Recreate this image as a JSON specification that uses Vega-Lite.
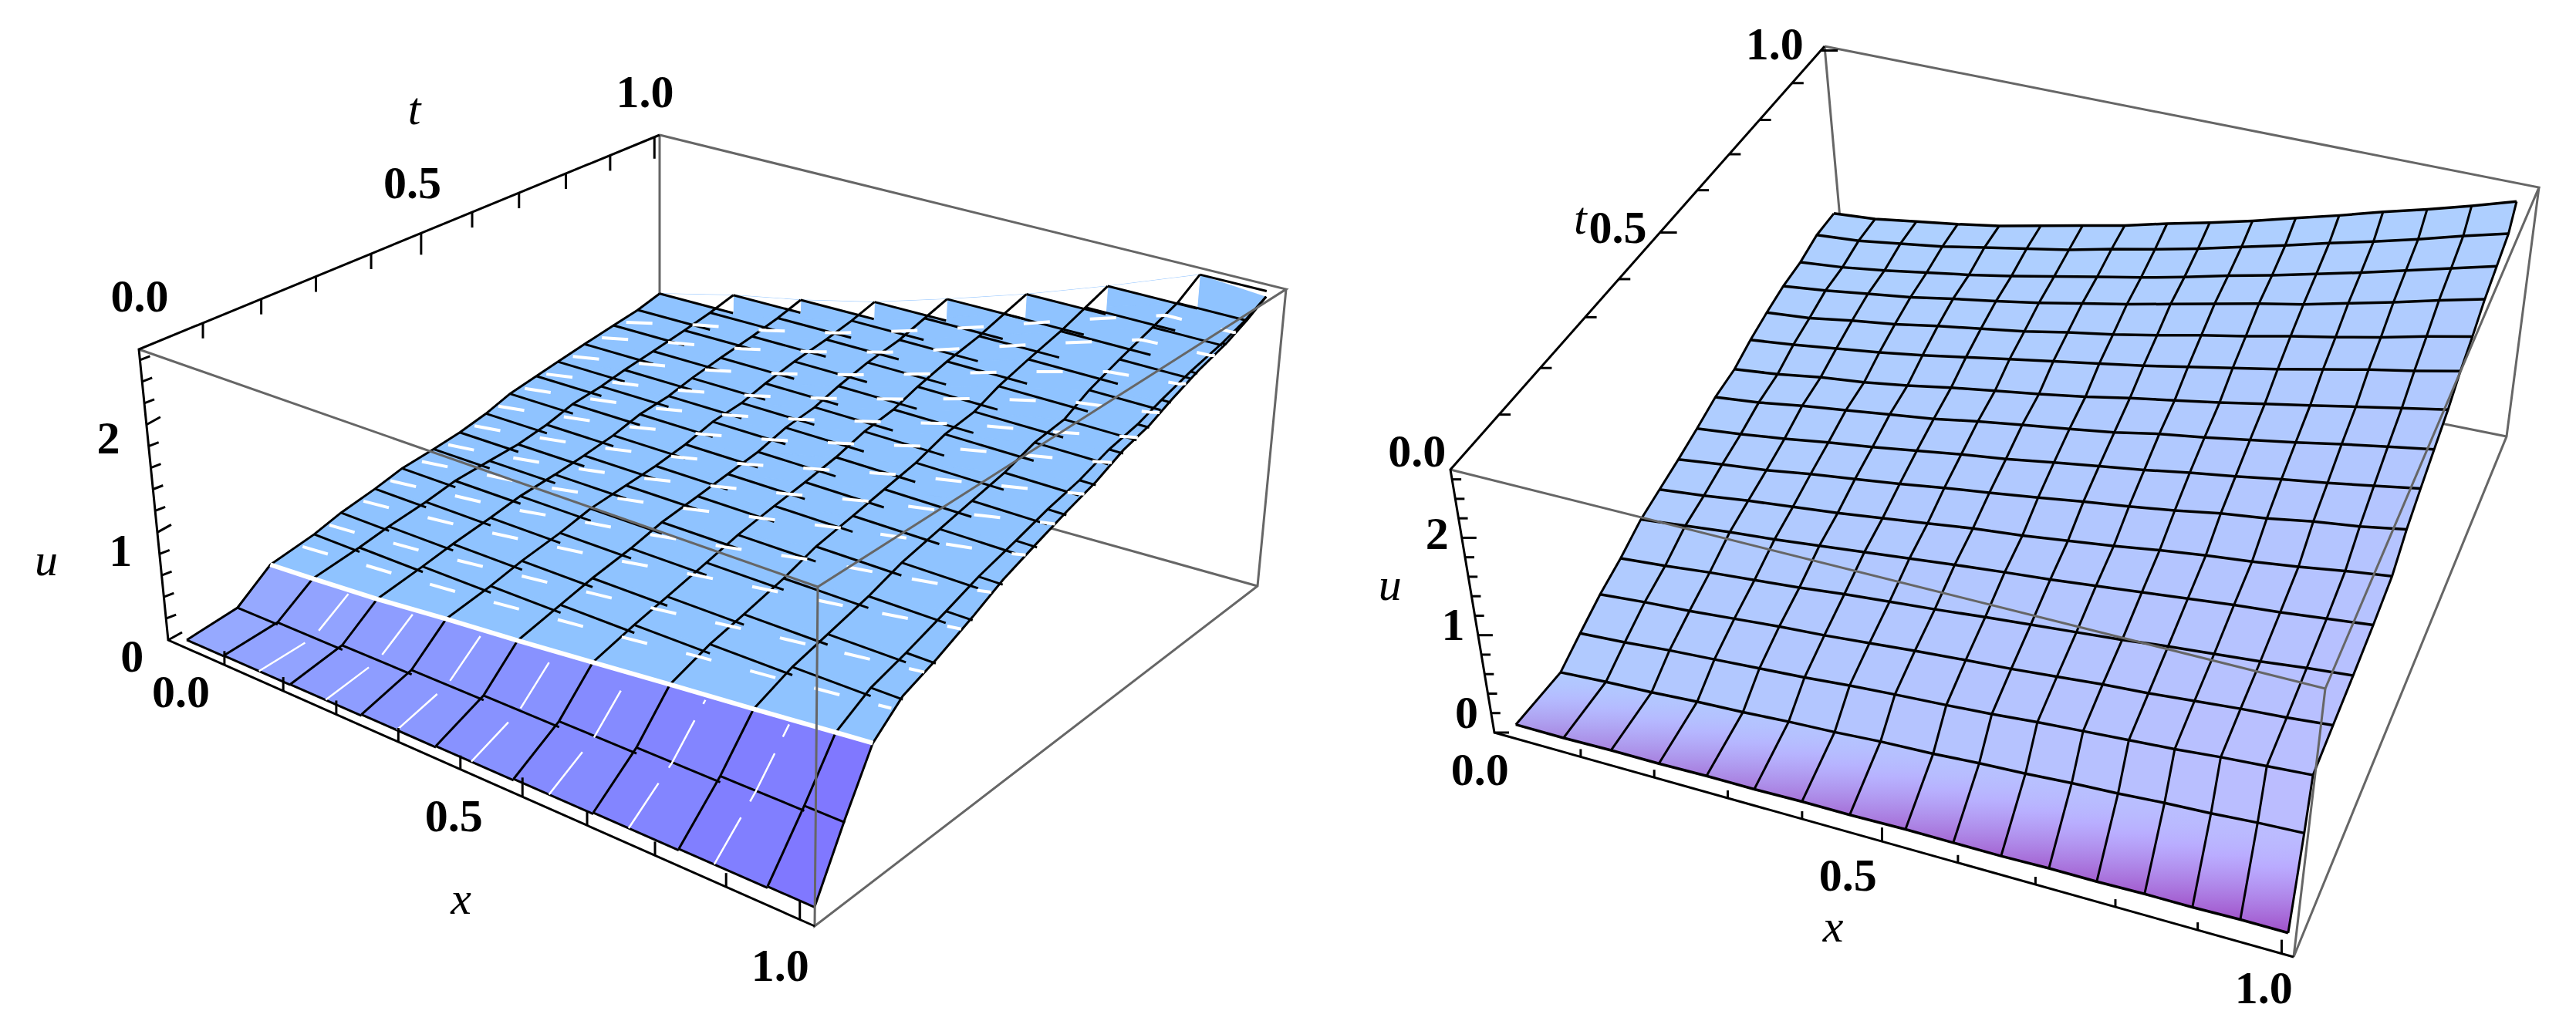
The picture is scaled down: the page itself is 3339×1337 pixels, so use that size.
{"$schema":"https://vega.github.io/schema/vega-lite/v6.json","width":3339,"height":1337,"padding":0,"autosize":{"type":"none"},"background":"white","config":{"view":{"stroke":null}},
"params":[{"name":"cam","value":{"L":[218,830,1056,1201,1630,760,855,543,180,453,1060,761,1667,375,855,175],"R":[1937,950,2973,1241,3249,566,2395,395,1880,609,3014,893,3291,243,2365,60]}},{"name":"tk","value":{"Lt":[0,20,0,28],"Lx":[0,-18,0,-25],"Lu":[13,-5,18,-10],"Rt":[15,0,22,0],"Rx":[0,-10,0,-18],"Ru":[12,0,19,0]}}],
"datasets":{
"cols":[{"ck":"L0","a":0.03,"b":0},{"ck":"L1","a":0.087,"b":0.124},{"ck":"L2","a":0.19,"b":0.237},{"ck":"L3","a":0.3,"b":0.36},{"ck":"L4","a":0.415,"b":0.48},{"ck":"L5","a":0.535,"b":0.61},{"ck":"L6","a":0.658,"b":0.742},{"ck":"L7","a":0.79,"b":0.89},{"ck":"L8","a":0.927,"b":1},{"ck":"L9","a":1,"b":1},
{"ck":"R0","a":0.03,"b":0},{"ck":"R1","a":0.09,"b":0.0625},{"ck":"R2","a":0.15,"b":0.125},{"ck":"R3","a":0.21,"b":0.1875},{"ck":"R4","a":0.27,"b":0.25},{"ck":"R5","a":0.33,"b":0.3125},{"ck":"R6","a":0.39,"b":0.375},{"ck":"R7","a":0.45,"b":0.4375},{"ck":"R8","a":0.52,"b":0.5},{"ck":"R9","a":0.58,"b":0.5625},{"ck":"R10","a":0.64,"b":0.625},{"ck":"R11","a":0.7,"b":0.6875},{"ck":"R12","a":0.76,"b":0.75},{"ck":"R13","a":0.82,"b":0.8125},{"ck":"R14","a":0.88,"b":0.875},{"ck":"R15","a":0.94,"b":0.9375},{"ck":"R16","a":1,"b":1}],
"rows":[{"rk":"L0","tv":0,"xr":1},{"rk":"L1","tv":0.11,"xr":0.97},{"rk":"L2","tv":0.184,"xr":0.96},{"rk":"L3","tv":0.278,"xr":0.94},{"rk":"L4","tv":0.335,"xr":0.95},{"rk":"L5","tv":0.407,"xr":0.955},{"rk":"L6","tv":0.464,"xr":0.96},{"rk":"L7","tv":0.53,"xr":0.965},{"rk":"L8","tv":0.585,"xr":0.97},{"rk":"L9","tv":0.64,"xr":0.975},{"rk":"L10","tv":0.69,"xr":0.98},{"rk":"L11","tv":0.745,"xr":0.98},{"rk":"L12","tv":0.79,"xr":0.98},{"rk":"L13","tv":0.845,"xr":0.98},{"rk":"L14","tv":0.905,"xr":0.98},{"rk":"L15","tv":0.955,"xr":0.975},{"rk":"L16","tv":1,"xr":0.97},
{"rk":"R0","tv":0,"xr":0.99},{"rk":"R1","tv":0.135,"xr":0.97},{"rk":"R2","tv":0.2,"xr":0.96},{"rk":"R3","tv":0.265,"xr":0.965},{"rk":"R4","tv":0.33,"xr":0.97},{"rk":"R5","tv":0.395,"xr":0.975},{"rk":"R6","tv":0.453,"xr":0.98},{"rk":"R7","tv":0.511,"xr":0.98},{"rk":"R8","tv":0.569,"xr":0.98},{"rk":"R9","tv":0.626,"xr":0.98},{"rk":"R10","tv":0.684,"xr":0.98},{"rk":"R11","tv":0.734,"xr":0.98},{"rk":"R12","tv":0.784,"xr":0.98},{"rk":"R13","tv":0.834,"xr":0.98},{"rk":"R14","tv":0.885,"xr":0.98},{"rk":"R15","tv":0.935,"xr":0.98},{"rk":"R16","tv":0.985,"xr":0.975}]},
"data":{"values":[
{"p":"L","g":"back","e":"L1","c":0,"x":0,"t":1,"u":2.7},{"p":"L","g":"back","e":"L1","c":1,"x":0,"t":1,"u":0},{"p":"L","g":"back","e":"L1","c":2,"x":1,"t":1,"u":0},
{"p":"L","g":"front","e":"L2","c":0,"x":0,"t":0,"u":2.7},{"p":"L","g":"front","e":"L2","c":1,"x":1,"t":0,"u":2.7},{"p":"L","g":"front","e":"L2","c":2,"x":1,"t":1,"u":2.7},{"p":"L","g":"front","e":"L2","c":3,"x":0,"t":1,"u":2.7},
{"p":"L","g":"front","e":"L3","c":0,"x":1,"t":1,"u":2.7},{"p":"L","g":"front","e":"L3","c":1,"x":1,"t":1,"u":0},{"p":"L","g":"front","e":"L3","c":2,"x":1,"t":0,"u":0},{"p":"L","g":"front","e":"L3","c":3,"x":1,"t":0,"u":2.7},
{"p":"L","g":"black","e":"L4","c":0,"x":0,"t":1,"u":2.7},{"p":"L","g":"black","e":"L4","c":1,"x":0,"t":0,"u":2.7},{"p":"L","g":"black","e":"L4","c":2,"x":0,"t":0,"u":0},{"p":"L","g":"black","e":"L4","c":3,"x":1,"t":0,"u":0},
{"p":"R","g":"back","e":"R1","c":0,"x":0,"t":1,"u":2.7},{"p":"R","g":"back","e":"R1","c":1,"x":0,"t":1,"u":0},{"p":"R","g":"back","e":"R1","c":2,"x":1,"t":1,"u":0},
{"p":"R","g":"front","e":"R2","c":0,"x":0,"t":0,"u":2.7},{"p":"R","g":"front","e":"R2","c":1,"x":1,"t":0,"u":2.7},{"p":"R","g":"front","e":"R2","c":2,"x":1,"t":1,"u":2.7},{"p":"R","g":"front","e":"R2","c":3,"x":0,"t":1,"u":2.7},
{"p":"R","g":"front","e":"R3","c":0,"x":1,"t":1,"u":2.7},{"p":"R","g":"front","e":"R3","c":1,"x":1,"t":1,"u":0},{"p":"R","g":"front","e":"R3","c":2,"x":1,"t":0,"u":0},{"p":"R","g":"front","e":"R3","c":3,"x":1,"t":0,"u":2.7},
{"p":"R","g":"black","e":"R4","c":0,"x":0,"t":1,"u":2.7},{"p":"R","g":"black","e":"R4","c":1,"x":0,"t":0,"u":2.7},{"p":"R","g":"black","e":"R4","c":2,"x":0,"t":0,"u":0},{"p":"R","g":"black","e":"R4","c":3,"x":1,"t":0,"u":0},
{"p":"L","ax":"t","v":0.123,"m":0},{"p":"L","ax":"t","v":0.235,"m":0},{"p":"L","ax":"t","v":0.34,"m":0},{"p":"L","ax":"t","v":0.446,"m":0},{"p":"L","ax":"t","v":0.542,"m":1},{"p":"L","ax":"t","v":0.64,"m":0},{"p":"L","ax":"t","v":0.73,"m":0},{"p":"L","ax":"t","v":0.82,"m":0},{"p":"L","ax":"t","v":0.905,"m":0},{"p":"L","ax":"t","v":0.99,"m":1},
{"p":"L","ax":"x","v":0.087,"m":0},{"p":"L","ax":"x","v":0.178,"m":0},{"p":"L","ax":"x","v":0.26,"m":0},{"p":"L","ax":"x","v":0.356,"m":0},{"p":"L","ax":"x","v":0.452,"m":0},{"p":"L","ax":"x","v":0.548,"m":1},{"p":"L","ax":"x","v":0.648,"m":0},{"p":"L","ax":"x","v":0.753,"m":0},{"p":"L","ax":"x","v":0.863,"m":0},{"p":"L","ax":"x","v":0.977,"m":1},
{"p":"L","ax":"u","v":0,"m":1},{"p":"L","ax":"u","v":0.2,"m":0},{"p":"L","ax":"u","v":0.4,"m":0},{"p":"L","ax":"u","v":0.6,"m":0},{"p":"L","ax":"u","v":0.8,"m":0},{"p":"L","ax":"u","v":1,"m":1},{"p":"L","ax":"u","v":1.2,"m":0},{"p":"L","ax":"u","v":1.4,"m":0},{"p":"L","ax":"u","v":1.6,"m":0},{"p":"L","ax":"u","v":1.8,"m":0},{"p":"L","ax":"u","v":2,"m":1},{"p":"L","ax":"u","v":2.2,"m":0},{"p":"L","ax":"u","v":2.4,"m":0},{"p":"L","ax":"u","v":2.6,"m":0},
{"p":"R","ax":"t","v":0.13,"m":0},{"p":"R","ax":"t","v":0.24,"m":0},{"p":"R","ax":"t","v":0.36,"m":0},{"p":"R","ax":"t","v":0.45,"m":0},{"p":"R","ax":"t","v":0.56,"m":1},{"p":"R","ax":"t","v":0.66,"m":0},{"p":"R","ax":"t","v":0.745,"m":0},{"p":"R","ax":"t","v":0.826,"m":0},{"p":"R","ax":"t","v":0.913,"m":0},{"p":"R","ax":"t","v":0.99,"m":1},
{"p":"R","ax":"x","v":0.108,"m":0},{"p":"R","ax":"x","v":0.2,"m":0},{"p":"R","ax":"x","v":0.292,"m":0},{"p":"R","ax":"x","v":0.385,"m":0},{"p":"R","ax":"x","v":0.485,"m":1},{"p":"R","ax":"x","v":0.58,"m":0},{"p":"R","ax":"x","v":0.677,"m":0},{"p":"R","ax":"x","v":0.777,"m":0},{"p":"R","ax":"x","v":0.88,"m":0},{"p":"R","ax":"x","v":0.985,"m":1},
{"p":"R","ax":"u","v":0,"m":1},{"p":"R","ax":"u","v":0.2,"m":0},{"p":"R","ax":"u","v":0.4,"m":0},{"p":"R","ax":"u","v":0.6,"m":0},{"p":"R","ax":"u","v":0.8,"m":0},{"p":"R","ax":"u","v":1,"m":1},{"p":"R","ax":"u","v":1.2,"m":0},{"p":"R","ax":"u","v":1.4,"m":0},{"p":"R","ax":"u","v":1.6,"m":0},{"p":"R","ax":"u","v":1.8,"m":0},{"p":"R","ax":"u","v":2,"m":1},{"p":"R","ax":"u","v":2.2,"m":0},{"p":"R","ax":"u","v":2.4,"m":0},{"p":"R","ax":"u","v":2.6,"m":0},
{"p":"L","s":"0.0","x":0.005,"t":0.005,"u":3.18},{"p":"L","s":"0.5","x":0,"t":0.53,"u":3.18},{"p":"L","s":"1.0","x":0,"t":0.972,"u":3.15},{"p":"L","s":"0.0","x":0.012,"t":0,"u":-0.46},{"p":"L","s":"0.5","x":0.438,"t":0,"u":-0.45},{"p":"L","s":"1.0","x":0.947,"t":0,"u":-0.45},{"p":"L","s":"0","x":-0.03,"t":-0.038,"u":-0.17},{"p":"L","s":"1","x":-0.03,"t":-0.038,"u":0.82},{"p":"L","s":"2","x":-0.03,"t":-0.038,"u":1.87},
{"p":"L","s":"x","l":1,"x":0.443,"t":0,"u":-1.15},{"p":"L","s":"u","l":1,"x":-0.087,"t":-0.113,"u":0.73},{"p":"L","s":"t","l":1,"x":0,"t":0.54,"u":3.86},
{"p":"R","s":"1.0","x":0,"t":0.88,"u":3.24},{"p":"R","s":"0.5","x":0,"t":0.463,"u":3.16},{"p":"R","s":"0.0","x":0,"t":-0.068,"u":3.17},{"p":"R","s":"0.0","x":-0.028,"t":0,"u":-0.46},{"p":"R","s":"0.5","x":0.44,"t":0,"u":-0.46},{"p":"R","s":"1.0","x":0.968,"t":0,"u":-0.4},{"p":"R","s":"0","x":-0.025,"t":-0.013,"u":0.19},{"p":"R","s":"1","x":-0.023,"t":-0.012,"u":1.09},{"p":"R","s":"2","x":-0.023,"t":-0.012,"u":2.03},
{"p":"R","s":"x","l":1,"x":0.418,"t":0,"u":-1.03},{"p":"R","s":"u","l":1,"x":-0.077,"t":-0.04,"u":1.5},{"p":"R","s":"t","l":1,"x":0,"t":0.38,"u":3.62},
{"p":"L","i":0,"j":0,"u":0.08},{"p":"L","i":1,"j":0,"u":0.085},{"p":"L","i":2,"j":0,"u":0.09},{"p":"L","i":3,"j":0,"u":0.1},{"p":"L","i":4,"j":0,"u":0.11},{"p":"L","i":5,"j":0,"u":0.12},{"p":"L","i":6,"j":0,"u":0.13},{"p":"L","i":7,"j":0,"u":0.14},{"p":"L","i":8,"j":0,"u":0.15},{"p":"L","i":9,"j":0,"u":0.16},
{"p":"L","i":0,"j":1,"u":0.14},{"p":"L","i":1,"j":1,"u":0.16},{"p":"L","i":2,"j":1,"u":0.2},{"p":"L","i":3,"j":1,"u":0.24},{"p":"L","i":4,"j":1,"u":0.28},{"p":"L","i":5,"j":1,"u":0.33},{"p":"L","i":6,"j":1,"u":0.38},{"p":"L","i":7,"j":1,"u":0.43},{"p":"L","i":8,"j":1,"u":0.47},{"p":"L","i":9,"j":1,"u":0.5},
{"p":"L","i":0,"j":2,"u":0.38},{"p":"L","i":1,"j":2,"u":0.41},{"p":"L","i":2,"j":2,"u":0.46},{"p":"L","i":3,"j":2,"u":0.53},{"p":"L","i":4,"j":2,"u":0.59},{"p":"L","i":5,"j":2,"u":0.66},{"p":"L","i":6,"j":2,"u":0.73},{"p":"L","i":7,"j":2,"u":0.8},{"p":"L","i":8,"j":2,"u":0.87},{"p":"L","i":9,"j":2,"u":0.9},
{"p":"L","i":0,"j":3,"u":0.46},{"p":"L","i":1,"j":3,"u":0.5},{"p":"L","i":2,"j":3,"u":0.55},{"p":"L","i":3,"j":3,"u":0.61},{"p":"L","i":4,"j":3,"u":0.68},{"p":"L","i":5,"j":3,"u":0.75},{"p":"L","i":6,"j":3,"u":0.83},{"p":"L","i":7,"j":3,"u":0.9},{"p":"L","i":8,"j":3,"u":0.97},{"p":"L","i":9,"j":3,"u":1},
{"p":"L","i":0,"j":4,"u":0.54},{"p":"L","i":1,"j":4,"u":0.58},{"p":"L","i":2,"j":4,"u":0.64},{"p":"L","i":3,"j":4,"u":0.72},{"p":"L","i":4,"j":4,"u":0.8},{"p":"L","i":5,"j":4,"u":0.88},{"p":"L","i":6,"j":4,"u":0.97},{"p":"L","i":7,"j":4,"u":1.06},{"p":"L","i":8,"j":4,"u":1.14},{"p":"L","i":9,"j":4,"u":1.17},
{"p":"L","i":0,"j":5,"u":0.61},{"p":"L","i":1,"j":5,"u":0.66},{"p":"L","i":2,"j":5,"u":0.73},{"p":"L","i":3,"j":5,"u":0.82},{"p":"L","i":4,"j":5,"u":0.91},{"p":"L","i":5,"j":5,"u":1.02},{"p":"L","i":6,"j":5,"u":1.12},{"p":"L","i":7,"j":5,"u":1.22},{"p":"L","i":8,"j":5,"u":1.32},{"p":"L","i":9,"j":5,"u":1.35},
{"p":"L","i":0,"j":6,"u":0.68},{"p":"L","i":1,"j":6,"u":0.74},{"p":"L","i":2,"j":6,"u":0.81},{"p":"L","i":3,"j":6,"u":0.92},{"p":"L","i":4,"j":6,"u":1.02},{"p":"L","i":5,"j":6,"u":1.14},{"p":"L","i":6,"j":6,"u":1.27},{"p":"L","i":7,"j":6,"u":1.38},{"p":"L","i":8,"j":6,"u":1.48},{"p":"L","i":9,"j":6,"u":1.52},
{"p":"L","i":0,"j":7,"u":0.72},{"p":"L","i":1,"j":7,"u":0.79},{"p":"L","i":2,"j":7,"u":0.87},{"p":"L","i":3,"j":7,"u":0.99},{"p":"L","i":4,"j":7,"u":1.11},{"p":"L","i":5,"j":7,"u":1.25},{"p":"L","i":6,"j":7,"u":1.39},{"p":"L","i":7,"j":7,"u":1.52},{"p":"L","i":8,"j":7,"u":1.63},{"p":"L","i":9,"j":7,"u":1.67},
{"p":"L","i":0,"j":8,"u":0.76},{"p":"L","i":1,"j":8,"u":0.83},{"p":"L","i":2,"j":8,"u":0.93},{"p":"L","i":3,"j":8,"u":1.05},{"p":"L","i":4,"j":8,"u":1.19},{"p":"L","i":5,"j":8,"u":1.34},{"p":"L","i":6,"j":8,"u":1.5},{"p":"L","i":7,"j":8,"u":1.64},{"p":"L","i":8,"j":8,"u":1.77},{"p":"L","i":9,"j":8,"u":1.8},
{"p":"L","i":0,"j":9,"u":0.82},{"p":"L","i":1,"j":9,"u":0.9},{"p":"L","i":2,"j":9,"u":1},{"p":"L","i":3,"j":9,"u":1.13},{"p":"L","i":4,"j":9,"u":1.27},{"p":"L","i":5,"j":9,"u":1.44},{"p":"L","i":6,"j":9,"u":1.61},{"p":"L","i":7,"j":9,"u":1.76},{"p":"L","i":8,"j":9,"u":1.89},{"p":"L","i":9,"j":9,"u":1.92},
{"p":"L","i":0,"j":10,"u":0.9},{"p":"L","i":1,"j":10,"u":0.99},{"p":"L","i":2,"j":10,"u":1.09},{"p":"L","i":3,"j":10,"u":1.23},{"p":"L","i":4,"j":10,"u":1.38},{"p":"L","i":5,"j":10,"u":1.56},{"p":"L","i":6,"j":10,"u":1.75},{"p":"L","i":7,"j":10,"u":1.91},{"p":"L","i":8,"j":10,"u":2.04},{"p":"L","i":9,"j":10,"u":2.07},
{"p":"L","i":0,"j":11,"u":0.95},{"p":"L","i":1,"j":11,"u":1.04},{"p":"L","i":2,"j":11,"u":1.14},{"p":"L","i":3,"j":11,"u":1.28},{"p":"L","i":4,"j":11,"u":1.44},{"p":"L","i":5,"j":11,"u":1.63},{"p":"L","i":6,"j":11,"u":1.82},{"p":"L","i":7,"j":11,"u":1.98},{"p":"L","i":8,"j":11,"u":2.12},{"p":"L","i":9,"j":11,"u":2.14},
{"p":"L","i":0,"j":12,"u":0.99},{"p":"L","i":1,"j":12,"u":1.1},{"p":"L","i":2,"j":12,"u":1.21},{"p":"L","i":3,"j":12,"u":1.36},{"p":"L","i":4,"j":12,"u":1.53},{"p":"L","i":5,"j":12,"u":1.73},{"p":"L","i":6,"j":12,"u":1.94},{"p":"L","i":7,"j":12,"u":2.13},{"p":"L","i":8,"j":12,"u":2.22},{"p":"L","i":9,"j":12,"u":2.24},
{"p":"L","i":0,"j":13,"u":1.04},{"p":"L","i":1,"j":13,"u":1.16},{"p":"L","i":2,"j":13,"u":1.28},{"p":"L","i":3,"j":13,"u":1.44},{"p":"L","i":4,"j":13,"u":1.62},{"p":"L","i":5,"j":13,"u":1.83},{"p":"L","i":6,"j":13,"u":2.05},{"p":"L","i":7,"j":13,"u":2.27},{"p":"L","i":8,"j":13,"u":2.33},{"p":"L","i":9,"j":13,"u":2.35},
{"p":"L","i":0,"j":14,"u":1.09},{"p":"L","i":1,"j":14,"u":1.23},{"p":"L","i":2,"j":14,"u":1.35},{"p":"L","i":3,"j":14,"u":1.51},{"p":"L","i":4,"j":14,"u":1.69},{"p":"L","i":5,"j":14,"u":1.92},{"p":"L","i":6,"j":14,"u":2.16},{"p":"L","i":7,"j":14,"u":2.41},{"p":"L","i":8,"j":14,"u":2.43},{"p":"L","i":9,"j":14,"u":2.44},
{"p":"L","i":0,"j":15,"u":1.13},{"p":"L","i":1,"j":15,"u":1.29},{"p":"L","i":2,"j":15,"u":1.41},{"p":"L","i":3,"j":15,"u":1.57},{"p":"L","i":4,"j":15,"u":1.77},{"p":"L","i":5,"j":15,"u":2},{"p":"L","i":6,"j":15,"u":2.25},{"p":"L","i":7,"j":15,"u":2.5},{"p":"L","i":8,"j":15,"u":2.5},{"p":"L","i":9,"j":15,"u":2.51},
{"p":"L","i":0,"j":16,"u":1.19},{"p":"L","i":1,"j":16,"u":1.36},{"p":"L","i":2,"j":16,"u":1.48},{"p":"L","i":3,"j":16,"u":1.64},{"p":"L","i":4,"j":16,"u":1.84},{"p":"L","i":5,"j":16,"u":2.07},{"p":"L","i":6,"j":16,"u":2.33},{"p":"L","i":7,"j":16,"u":2.64},{"p":"L","i":8,"j":16,"u":2.59},{"p":"L","i":9,"j":16,"u":2.59},
{"p":"R","i":0,"j":0,"u":0.15},{"p":"R","i":1,"j":0,"u":0.15},{"p":"R","i":2,"j":0,"u":0.16},{"p":"R","i":3,"j":0,"u":0.16},{"p":"R","i":4,"j":0,"u":0.17},{"p":"R","i":5,"j":0,"u":0.17},{"p":"R","i":6,"j":0,"u":0.18},{"p":"R","i":7,"j":0,"u":0.18},{"p":"R","i":8,"j":0,"u":0.19},{"p":"R","i":9,"j":0,"u":0.19},{"p":"R","i":10,"j":0,"u":0.19},{"p":"R","i":11,"j":0,"u":0.2},{"p":"R","i":12,"j":0,"u":0.2},{"p":"R","i":13,"j":0,"u":0.21},{"p":"R","i":14,"j":0,"u":0.21},{"p":"R","i":15,"j":0,"u":0.22},{"p":"R","i":16,"j":0,"u":0.22},
{"p":"R","i":0,"j":1,"u":0.08},{"p":"R","i":1,"j":1,"u":0.11},{"p":"R","i":2,"j":1,"u":0.13},{"p":"R","i":3,"j":1,"u":0.16},{"p":"R","i":4,"j":1,"u":0.18},{"p":"R","i":5,"j":1,"u":0.21},{"p":"R","i":6,"j":1,"u":0.23},{"p":"R","i":7,"j":1,"u":0.26},{"p":"R","i":8,"j":1,"u":0.28},{"p":"R","i":9,"j":1,"u":0.31},{"p":"R","i":10,"j":1,"u":0.33},{"p":"R","i":11,"j":1,"u":0.36},{"p":"R","i":12,"j":1,"u":0.38},{"p":"R","i":13,"j":1,"u":0.41},{"p":"R","i":14,"j":1,"u":0.43},{"p":"R","i":15,"j":1,"u":0.46},{"p":"R","i":16,"j":1,"u":0.48},
{"p":"R","i":0,"j":2,"u":0.19},{"p":"R","i":1,"j":2,"u":0.22},{"p":"R","i":2,"j":2,"u":0.26},{"p":"R","i":3,"j":2,"u":0.29},{"p":"R","i":4,"j":2,"u":0.32},{"p":"R","i":5,"j":2,"u":0.35},{"p":"R","i":6,"j":2,"u":0.39},{"p":"R","i":7,"j":2,"u":0.42},{"p":"R","i":8,"j":2,"u":0.45},{"p":"R","i":9,"j":2,"u":0.48},{"p":"R","i":10,"j":2,"u":0.52},{"p":"R","i":11,"j":2,"u":0.55},{"p":"R","i":12,"j":2,"u":0.58},{"p":"R","i":13,"j":2,"u":0.61},{"p":"R","i":14,"j":2,"u":0.65},{"p":"R","i":15,"j":2,"u":0.68},{"p":"R","i":16,"j":2,"u":0.71},
{"p":"R","i":0,"j":3,"u":0.3},{"p":"R","i":1,"j":3,"u":0.34},{"p":"R","i":2,"j":3,"u":0.37},{"p":"R","i":3,"j":3,"u":0.41},{"p":"R","i":4,"j":3,"u":0.45},{"p":"R","i":5,"j":3,"u":0.48},{"p":"R","i":6,"j":3,"u":0.52},{"p":"R","i":7,"j":3,"u":0.56},{"p":"R","i":8,"j":3,"u":0.6},{"p":"R","i":9,"j":3,"u":0.63},{"p":"R","i":10,"j":3,"u":0.67},{"p":"R","i":11,"j":3,"u":0.71},{"p":"R","i":12,"j":3,"u":0.74},{"p":"R","i":13,"j":3,"u":0.78},{"p":"R","i":14,"j":3,"u":0.82},{"p":"R","i":15,"j":3,"u":0.85},{"p":"R","i":16,"j":3,"u":0.89},
{"p":"R","i":0,"j":4,"u":0.38},{"p":"R","i":1,"j":4,"u":0.42},{"p":"R","i":2,"j":4,"u":0.47},{"p":"R","i":3,"j":4,"u":0.51},{"p":"R","i":4,"j":4,"u":0.55},{"p":"R","i":5,"j":4,"u":0.6},{"p":"R","i":6,"j":4,"u":0.64},{"p":"R","i":7,"j":4,"u":0.68},{"p":"R","i":8,"j":4,"u":0.73},{"p":"R","i":9,"j":4,"u":0.77},{"p":"R","i":10,"j":4,"u":0.81},{"p":"R","i":11,"j":4,"u":0.85},{"p":"R","i":12,"j":4,"u":0.9},{"p":"R","i":13,"j":4,"u":0.94},{"p":"R","i":14,"j":4,"u":0.98},{"p":"R","i":15,"j":4,"u":1.03},{"p":"R","i":16,"j":4,"u":1.07},
{"p":"R","i":0,"j":5,"u":0.49},{"p":"R","i":1,"j":5,"u":0.54},{"p":"R","i":2,"j":5,"u":0.59},{"p":"R","i":3,"j":5,"u":0.63},{"p":"R","i":4,"j":5,"u":0.68},{"p":"R","i":5,"j":5,"u":0.73},{"p":"R","i":6,"j":5,"u":0.78},{"p":"R","i":7,"j":5,"u":0.83},{"p":"R","i":8,"j":5,"u":0.88},{"p":"R","i":9,"j":5,"u":0.92},{"p":"R","i":10,"j":5,"u":0.97},{"p":"R","i":11,"j":5,"u":1.02},{"p":"R","i":12,"j":5,"u":1.07},{"p":"R","i":13,"j":5,"u":1.12},{"p":"R","i":14,"j":5,"u":1.16},{"p":"R","i":15,"j":5,"u":1.21},{"p":"R","i":16,"j":5,"u":1.26},
{"p":"R","i":0,"j":6,"u":0.54},{"p":"R","i":1,"j":6,"u":0.59},{"p":"R","i":2,"j":6,"u":0.65},{"p":"R","i":3,"j":6,"u":0.7},{"p":"R","i":4,"j":6,"u":0.75},{"p":"R","i":5,"j":6,"u":0.81},{"p":"R","i":6,"j":6,"u":0.87},{"p":"R","i":7,"j":6,"u":0.93},{"p":"R","i":8,"j":6,"u":0.98},{"p":"R","i":9,"j":6,"u":1.04},{"p":"R","i":10,"j":6,"u":1.1},{"p":"R","i":11,"j":6,"u":1.17},{"p":"R","i":12,"j":6,"u":1.23},{"p":"R","i":13,"j":6,"u":1.28},{"p":"R","i":14,"j":6,"u":1.34},{"p":"R","i":15,"j":6,"u":1.41},{"p":"R","i":16,"j":6,"u":1.47},
{"p":"R","i":0,"j":7,"u":0.59},{"p":"R","i":1,"j":7,"u":0.65},{"p":"R","i":2,"j":7,"u":0.7},{"p":"R","i":3,"j":7,"u":0.77},{"p":"R","i":4,"j":7,"u":0.83},{"p":"R","i":5,"j":7,"u":0.89},{"p":"R","i":6,"j":7,"u":0.96},{"p":"R","i":7,"j":7,"u":1.02},{"p":"R","i":8,"j":7,"u":1.09},{"p":"R","i":9,"j":7,"u":1.16},{"p":"R","i":10,"j":7,"u":1.22},{"p":"R","i":11,"j":7,"u":1.29},{"p":"R","i":12,"j":7,"u":1.37},{"p":"R","i":13,"j":7,"u":1.43},{"p":"R","i":14,"j":7,"u":1.51},{"p":"R","i":15,"j":7,"u":1.57},{"p":"R","i":16,"j":7,"u":1.65},
{"p":"R","i":0,"j":8,"u":0.65},{"p":"R","i":1,"j":8,"u":0.7},{"p":"R","i":2,"j":8,"u":0.76},{"p":"R","i":3,"j":8,"u":0.83},{"p":"R","i":4,"j":8,"u":0.89},{"p":"R","i":5,"j":8,"u":0.96},{"p":"R","i":6,"j":8,"u":1.03},{"p":"R","i":7,"j":8,"u":1.09},{"p":"R","i":8,"j":8,"u":1.17},{"p":"R","i":9,"j":8,"u":1.24},{"p":"R","i":10,"j":8,"u":1.31},{"p":"R","i":11,"j":8,"u":1.39},{"p":"R","i":12,"j":8,"u":1.46},{"p":"R","i":13,"j":8,"u":1.54},{"p":"R","i":14,"j":8,"u":1.61},{"p":"R","i":15,"j":8,"u":1.69},{"p":"R","i":16,"j":8,"u":1.77},
{"p":"R","i":0,"j":9,"u":0.72},{"p":"R","i":1,"j":9,"u":0.77},{"p":"R","i":2,"j":9,"u":0.84},{"p":"R","i":3,"j":9,"u":0.9},{"p":"R","i":4,"j":9,"u":0.96},{"p":"R","i":5,"j":9,"u":1.02},{"p":"R","i":6,"j":9,"u":1.1},{"p":"R","i":7,"j":9,"u":1.17},{"p":"R","i":8,"j":9,"u":1.24},{"p":"R","i":9,"j":9,"u":1.31},{"p":"R","i":10,"j":9,"u":1.4},{"p":"R","i":11,"j":9,"u":1.47},{"p":"R","i":12,"j":9,"u":1.55},{"p":"R","i":13,"j":9,"u":1.63},{"p":"R","i":14,"j":9,"u":1.72},{"p":"R","i":15,"j":9,"u":1.8},{"p":"R","i":16,"j":9,"u":1.88},
{"p":"R","i":0,"j":10,"u":0.75},{"p":"R","i":1,"j":10,"u":0.8},{"p":"R","i":2,"j":10,"u":0.87},{"p":"R","i":3,"j":10,"u":0.92},{"p":"R","i":4,"j":10,"u":0.99},{"p":"R","i":5,"j":10,"u":1.07},{"p":"R","i":6,"j":10,"u":1.14},{"p":"R","i":7,"j":10,"u":1.21},{"p":"R","i":8,"j":10,"u":1.29},{"p":"R","i":9,"j":10,"u":1.38},{"p":"R","i":10,"j":10,"u":1.46},{"p":"R","i":11,"j":10,"u":1.54},{"p":"R","i":12,"j":10,"u":1.63},{"p":"R","i":13,"j":10,"u":1.72},{"p":"R","i":14,"j":10,"u":1.81},{"p":"R","i":15,"j":10,"u":1.9},{"p":"R","i":16,"j":10,"u":1.99},
{"p":"R","i":0,"j":11,"u":0.83},{"p":"R","i":1,"j":11,"u":0.88},{"p":"R","i":2,"j":11,"u":0.94},{"p":"R","i":3,"j":11,"u":1},{"p":"R","i":4,"j":11,"u":1.07},{"p":"R","i":5,"j":11,"u":1.15},{"p":"R","i":6,"j":11,"u":1.23},{"p":"R","i":7,"j":11,"u":1.31},{"p":"R","i":8,"j":11,"u":1.39},{"p":"R","i":9,"j":11,"u":1.47},{"p":"R","i":10,"j":11,"u":1.56},{"p":"R","i":11,"j":11,"u":1.65},{"p":"R","i":12,"j":11,"u":1.74},{"p":"R","i":13,"j":11,"u":1.84},{"p":"R","i":14,"j":11,"u":1.94},{"p":"R","i":15,"j":11,"u":2.03},{"p":"R","i":16,"j":11,"u":2.13},
{"p":"R","i":0,"j":12,"u":0.89},{"p":"R","i":1,"j":12,"u":0.93},{"p":"R","i":2,"j":12,"u":1},{"p":"R","i":3,"j":12,"u":1.06},{"p":"R","i":4,"j":12,"u":1.14},{"p":"R","i":5,"j":12,"u":1.21},{"p":"R","i":6,"j":12,"u":1.28},{"p":"R","i":7,"j":12,"u":1.37},{"p":"R","i":8,"j":12,"u":1.45},{"p":"R","i":9,"j":12,"u":1.54},{"p":"R","i":10,"j":12,"u":1.64},{"p":"R","i":11,"j":12,"u":1.73},{"p":"R","i":12,"j":12,"u":1.83},{"p":"R","i":13,"j":12,"u":1.92},{"p":"R","i":14,"j":12,"u":2.02},{"p":"R","i":15,"j":12,"u":2.13},{"p":"R","i":16,"j":12,"u":2.23},
{"p":"R","i":0,"j":13,"u":0.94},{"p":"R","i":1,"j":13,"u":0.99},{"p":"R","i":2,"j":13,"u":1.05},{"p":"R","i":3,"j":13,"u":1.11},{"p":"R","i":4,"j":13,"u":1.19},{"p":"R","i":5,"j":13,"u":1.26},{"p":"R","i":6,"j":13,"u":1.34},{"p":"R","i":7,"j":13,"u":1.43},{"p":"R","i":8,"j":13,"u":1.52},{"p":"R","i":9,"j":13,"u":1.62},{"p":"R","i":10,"j":13,"u":1.72},{"p":"R","i":11,"j":13,"u":1.82},{"p":"R","i":12,"j":13,"u":1.91},{"p":"R","i":13,"j":13,"u":2.02},{"p":"R","i":14,"j":13,"u":2.13},{"p":"R","i":15,"j":13,"u":2.25},{"p":"R","i":16,"j":13,"u":2.36},
{"p":"R","i":0,"j":14,"u":0.96},{"p":"R","i":1,"j":14,"u":1},{"p":"R","i":2,"j":14,"u":1.06},{"p":"R","i":3,"j":14,"u":1.13},{"p":"R","i":4,"j":14,"u":1.2},{"p":"R","i":5,"j":14,"u":1.28},{"p":"R","i":6,"j":14,"u":1.37},{"p":"R","i":7,"j":14,"u":1.46},{"p":"R","i":8,"j":14,"u":1.55},{"p":"R","i":9,"j":14,"u":1.65},{"p":"R","i":10,"j":14,"u":1.76},{"p":"R","i":11,"j":14,"u":1.86},{"p":"R","i":12,"j":14,"u":1.97},{"p":"R","i":13,"j":14,"u":2.08},{"p":"R","i":14,"j":14,"u":2.2},{"p":"R","i":15,"j":14,"u":2.32},{"p":"R","i":16,"j":14,"u":2.44},
{"p":"R","i":0,"j":15,"u":1.02},{"p":"R","i":1,"j":15,"u":1.05},{"p":"R","i":2,"j":15,"u":1.11},{"p":"R","i":3,"j":15,"u":1.17},{"p":"R","i":4,"j":15,"u":1.25},{"p":"R","i":5,"j":15,"u":1.33},{"p":"R","i":6,"j":15,"u":1.41},{"p":"R","i":7,"j":15,"u":1.51},{"p":"R","i":8,"j":15,"u":1.6},{"p":"R","i":9,"j":15,"u":1.7},{"p":"R","i":10,"j":15,"u":1.81},{"p":"R","i":11,"j":15,"u":1.92},{"p":"R","i":12,"j":15,"u":2.04},{"p":"R","i":13,"j":15,"u":2.15},{"p":"R","i":14,"j":15,"u":2.27},{"p":"R","i":15,"j":15,"u":2.4},{"p":"R","i":16,"j":15,"u":2.52},
{"p":"R","i":0,"j":16,"u":1.02},{"p":"R","i":1,"j":16,"u":1.05},{"p":"R","i":2,"j":16,"u":1.11},{"p":"R","i":3,"j":16,"u":1.17},{"p":"R","i":4,"j":16,"u":1.24},{"p":"R","i":5,"j":16,"u":1.33},{"p":"R","i":6,"j":16,"u":1.42},{"p":"R","i":7,"j":16,"u":1.51},{"p":"R","i":8,"j":16,"u":1.62},{"p":"R","i":9,"j":16,"u":1.72},{"p":"R","i":10,"j":16,"u":1.83},{"p":"R","i":11,"j":16,"u":1.95},{"p":"R","i":12,"j":16,"u":2.07},{"p":"R","i":13,"j":16,"u":2.2},{"p":"R","i":14,"j":16,"u":2.32},{"p":"R","i":15,"j":16,"u":2.45},{"p":"R","i":16,"j":16,"u":2.59}
]},
"transform":[
{"calculate":"datum.p+datum.i","as":"ck"},{"calculate":"datum.p+datum.j","as":"rk"},
{"lookup":"ck","from":{"data":{"name":"cols"},"key":"ck","fields":["a","b"]}},
{"lookup":"rk","from":{"data":{"name":"rows"},"key":"rk","fields":["tv","xr"]}},
{"calculate":"isValid(datum.i)?(datum.a+(datum.b-datum.a)*datum.tv)*datum.xr:(datum.ax=='x'?datum.v:(isValid(datum.ax)?0:datum.x))","as":"X"},
{"calculate":"isValid(datum.i)?datum.tv:(datum.ax=='t'?datum.v:(isValid(datum.ax)?0:datum.t))","as":"T"},
{"calculate":"datum.ax=='t'?1:(datum.ax=='u'?datum.v/2.7:(datum.ax=='x'?0:datum.u/2.7))","as":"W"},
{"calculate":"(1-datum.T)*((1-datum.X)*cam[datum.p][0]+datum.X*cam[datum.p][2])+datum.T*((1-datum.X)*cam[datum.p][6]+datum.X*cam[datum.p][4])","as":"fx"},
{"calculate":"(1-datum.T)*((1-datum.X)*cam[datum.p][1]+datum.X*cam[datum.p][3])+datum.T*((1-datum.X)*cam[datum.p][7]+datum.X*cam[datum.p][5])","as":"fy"},
{"calculate":"(1-datum.T)*((1-datum.X)*cam[datum.p][8]+datum.X*cam[datum.p][10])+datum.T*((1-datum.X)*cam[datum.p][14]+datum.X*cam[datum.p][12])","as":"gx"},
{"calculate":"(1-datum.T)*((1-datum.X)*cam[datum.p][9]+datum.X*cam[datum.p][11])+datum.T*((1-datum.X)*cam[datum.p][15]+datum.X*cam[datum.p][13])","as":"gy"},
{"calculate":"datum.fx+datum.W*(datum.gx-datum.fx)","as":"sx"},
{"calculate":"datum.fy+datum.W*(datum.gy-datum.fy)","as":"sy"}
],
"encoding":{"x":{"field":"sx","type":"quantitative","scale":{"domain":[0,3339],"nice":false,"zero":false},"axis":null},"y":{"field":"sy","type":"quantitative","scale":{"domain":[0,1337],"nice":false,"zero":false,"reverse":true},"axis":null}},
"layer":[
{"transform":[{"filter":"datum.g=='back'"}],"mark":{"type":"line","stroke":"#666666","strokeWidth":3},"encoding":{"detail":{"field":"e"},"order":{"field":"c","type":"quantitative"}}},
{"transform":[{"filter":"isValid(datum.i)"},{"calculate":"[0,1,2,3]","as":"cs"},{"flatten":["cs"],"as":["c"]},{"calculate":"datum.i-[0,1,1,0][datum.c]","as":"ci"},{"calculate":"datum.j-[0,0,1,1][datum.c]","as":"cj"},{"filter":"datum.ci>=0&&datum.cj>=0&&datum.cj<16&&datum.ci<(datum.p=='L'?9:16)"},{"calculate":"datum.p+datum.ci+'_'+datum.cj","as":"cell"},{"calculate":"datum.p=='L'?(datum.cj<2?1+datum.ci/8:0):3+(1-datum.cj/16)*(0.35+0.65*datum.ci/15)","as":"shade"}],"mark":{"type":"line","strokeWidth":1},"encoding":{"detail":{"field":"cell"},"order":{"field":"c","type":"quantitative"},"fill":{"field":"shade","type":"quantitative","legend":null,"scale":{"domain":[0,1,2,3,4],"range":["#8fc3ff","#96a9ff","#8078ff","#aed0ff","#bcbcff"]}},"stroke":{"field":"shade","type":"quantitative","legend":null,"scale":{"domain":[0,1,2,3,4],"range":["#8fc3ff","#96a9ff","#8078ff","#aed0ff","#bcbcff"]}}}},
{"transform":[{"filter":"isValid(datum.i)&&datum.p=='R'"},{"calculate":"[0,1,2,3]","as":"cs"},{"flatten":["cs"],"as":["c"]},{"calculate":"datum.i-[0,1,1,0][datum.c]","as":"ci"},{"calculate":"datum.j-[0,0,1,1][datum.c]","as":"cj"},{"filter":"datum.ci>=0&&datum.cj==0&&datum.ci<16"},{"calculate":"'o'+datum.ci","as":"cell"}],"mark":{"type":"line","stroke":null,"fill":{"gradient":"linear","x1":0,"y1":0,"x2":0,"y2":1,"stops":[{"offset":0,"color":"rgba(185,190,255,0)"},{"offset":0.4,"color":"rgba(185,165,255,0.75)"},{"offset":1,"color":"rgba(160,80,200,1)"}]}},"encoding":{"detail":{"field":"cell"},"order":{"field":"c","type":"quantitative"},"opacity":{"field":"ci","type":"quantitative","legend":null,"scale":{"domain":[0,15],"range":[0.55,1]}}}},
{"transform":[{"filter":"isValid(datum.i)&&datum.p=='L'&&datum.j==16"},{"window":[{"op":"lead","field":"X","as":"X2"},{"op":"lead","field":"sx","as":"nx"},{"op":"lead","field":"sy","as":"ny"}],"sort":[{"field":"i","order":"ascending"}]},{"filter":"isValid(datum.X2)"},{"calculate":"datum.sx+(datum.X2-datum.X)*(775+datum.W*37)","as":"ex"},{"calculate":"datum.sy+(datum.X2-datum.X)*(217-datum.W*17)","as":"ey"},{"calculate":"[0,1,2]","as":"cs"},{"flatten":["cs"],"as":["c"]},{"calculate":"datum.c==0?datum.sx:(datum.c==1?datum.ex:datum.nx)","as":"sx"},{"calculate":"datum.c==0?datum.sy:(datum.c==1?datum.ey:datum.ny)","as":"sy"},{"calculate":"'z'+datum.i","as":"li"}],"mark":{"type":"line","stroke":"white","strokeWidth":1,"fill":"white"},"encoding":{"detail":{"field":"li"},"order":{"field":"c","type":"quantitative"}}},
{"transform":[{"filter":"isValid(datum.i)"},{"calculate":"datum.p+'c'+datum.i","as":"li"}],"mark":{"type":"line","stroke":"black","strokeWidth":3},"encoding":{"detail":{"field":"li"},"order":{"field":"j","type":"quantitative"}}},
{"transform":[{"filter":"isValid(datum.i)&&datum.p=='R'"},{"calculate":"'r'+datum.j","as":"li"}],"mark":{"type":"line","stroke":"black","strokeWidth":3.5},"encoding":{"detail":{"field":"li"},"order":{"field":"i","type":"quantitative"}}},
{"transform":[{"filter":"isValid(datum.i)&&datum.p=='L'&&datum.j!=2"},{"window":[{"op":"lead","field":"X","as":"X2"}],"groupby":["j"],"sort":[{"field":"i","order":"ascending"}]},{"filter":"isValid(datum.X2)"},{"calculate":"datum.sx+(datum.X2-datum.X)*((1-datum.T)*(838+datum.W*42)+datum.T*(775+datum.W*37))","as":"sx2"},{"calculate":"datum.sy+(datum.X2-datum.X)*((1-datum.T)*(371-datum.W*63)+datum.T*(217-datum.W*17))","as":"sy2"}],"mark":{"type":"rule","stroke":"black","strokeWidth":3},"encoding":{"x2":{"field":"sx2"},"y2":{"field":"sy2"}}},
{"transform":[{"filter":"isValid(datum.i)&&datum.p=='L'&&datum.j==2"}],"mark":{"type":"line","stroke":"white","strokeWidth":6},"encoding":{"order":{"field":"i","type":"quantitative"}}},
{"transform":[{"filter":"isValid(datum.i)&&datum.p=='L'&&datum.j>=3&&datum.j<16"},{"calculate":"datum.sx-15","as":"sx"},{"calculate":"datum.sy+16","as":"sy"},{"calculate":"'w'+datum.j","as":"li"}],"mark":{"type":"line","stroke":"white","strokeWidth":4,"strokeDash":[34,52]},"encoding":{"detail":{"field":"li"},"order":{"field":"i","type":"quantitative"}}},
{"transform":[{"filter":"isValid(datum.i)&&datum.p=='L'&&datum.j<=2&&datum.i>=1&&datum.i<=7"},{"calculate":"datum.sx+46","as":"sx"},{"calculate":"datum.sy+20","as":"sy"},{"calculate":"'v'+datum.i","as":"li"}],"mark":{"type":"line","stroke":"white","strokeWidth":2.5,"strokeDash":[70,24]},"encoding":{"detail":{"field":"li"},"order":{"field":"j","type":"quantitative"}}},
{"transform":[{"filter":"datum.g=='front'"}],"mark":{"type":"line","stroke":"#666666","strokeWidth":3},"encoding":{"detail":{"field":"e"},"order":{"field":"c","type":"quantitative"}}},
{"transform":[{"filter":"datum.g=='black'"}],"mark":{"type":"line","stroke":"black","strokeWidth":3},"encoding":{"detail":{"field":"e"},"order":{"field":"c","type":"quantitative"}}},
{"transform":[{"filter":"isValid(datum.ax)"},{"calculate":"datum.sx+tk[datum.p+datum.ax][datum.m*2]","as":"sx2"},{"calculate":"datum.sy+tk[datum.p+datum.ax][datum.m*2+1]","as":"sy2"}],"mark":{"type":"rule","stroke":"black","strokeWidth":3},"encoding":{"x2":{"field":"sx2"},"y2":{"field":"sy2"}}},
{"transform":[{"filter":"isValid(datum.s)&&!datum.l"}],"mark":{"type":"text","font":"Liberation Serif","fontWeight":"bold","fontSize":60,"fill":"black","align":"center","baseline":"middle"},"encoding":{"text":{"field":"s"}}},
{"transform":[{"filter":"isValid(datum.s)&&datum.l==1"}],"mark":{"type":"text","font":"Liberation Serif","fontStyle":"italic","fontSize":60,"fill":"black","align":"center","baseline":"middle"},"encoding":{"text":{"field":"s"}}}
]}
